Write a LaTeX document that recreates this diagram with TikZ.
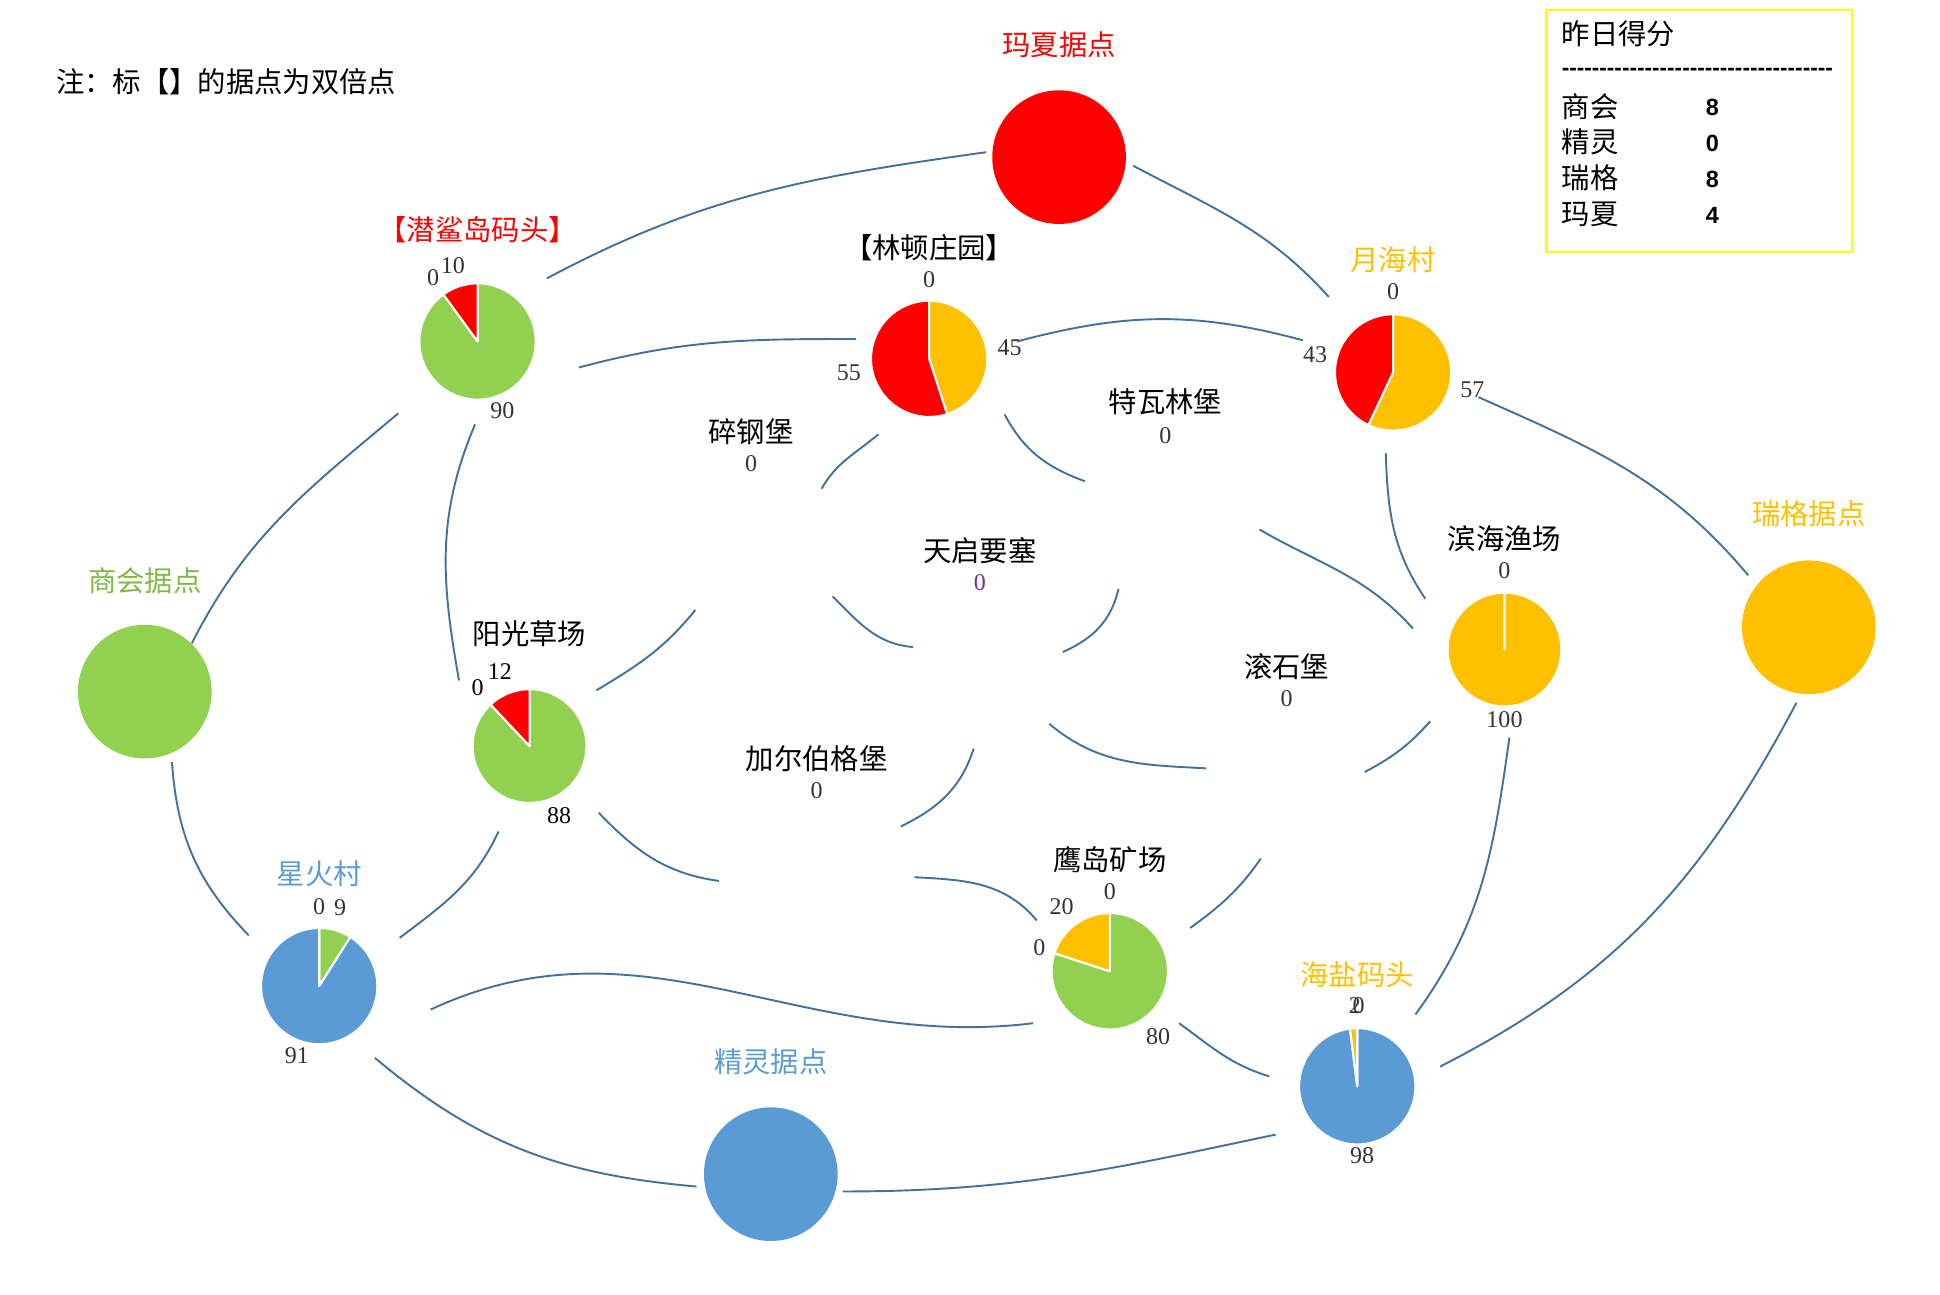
\documentclass[tikz,border=0pt]{standalone}
\usepackage{fontspec}
\setmainfont{Liberation Serif}
\newfontfamily\cjk{Noto Sans CJK SC}
\newfontfamily\legfont{Liberation Sans}
\usepackage{xcolor}
\definecolor{MxRed}{HTML}{FF0000}
\definecolor{ShGreen}{HTML}{92D050}
\definecolor{RgGold}{HTML}{FFC000}
\definecolor{JlBlue}{HTML}{5B9BD5}
\definecolor{ShText}{HTML}{7FBA45}
\definecolor{Link}{HTML}{41719C}
\definecolor{NumGray}{HTML}{333333}
\definecolor{Purple}{HTML}{7030A0}
\definecolor{BoxYellow}{HTML}{FFFF00}
\tikzset{
 lbl/.style={font=\cjk\fontsize{16.3}{19}\selectfont, inner sep=0pt},
 val/.style={font=\fontsize{13.8}{16}\selectfont, text=NumGray, inner sep=0pt},
 link/.style={draw=Link, line width=1.1pt},
 slice/.style={draw=white, line width=1.2pt, line join=round},
 bigdot/.style={circle, minimum size=2.7cm, inner sep=0pt},
 pie/.style={circle, minimum size=2.35cm, inner sep=0pt}
}

\begin{document}
\begin{tikzpicture}[x=0.025cm,y=0.025cm,yscale=-1]
\useasboundingbox (0,0) rectangle (1568,1046);

% note and score box
\node[lbl,anchor=west] (note) at (45,66) {注：标【】的据点为双倍点};
\node[draw=BoxYellow,line width=1.2pt,minimum width=6.175cm,minimum height=4.9cm,inner sep=0pt] (score) at (1373.5,106) {};
\node[lbl,anchor=west] (score-t) at (1262,27) {昨日得分};
\node[anchor=west,inner sep=0pt,font=\legfont\bfseries\fontsize{13}{15}\selectfont] (score-d) at (1262,58) {------------------------------------};
\node[lbl,anchor=west] (score-a) at (1262,86) {商会};
\node[lbl,anchor=west] (score-b) at (1262,115) {精灵};
\node[lbl,anchor=west] (score-c) at (1262,144) {瑞格};
\node[lbl,anchor=west] (score-e) at (1262,173) {玛夏};
\node[inner sep=0pt,font=\legfont\bfseries\fontsize{13.5}{15}\selectfont] (score-an) at (1384,87) {8};
\node[inner sep=0pt,font=\legfont\bfseries\fontsize{13.5}{15}\selectfont] (score-bn) at (1384,116) {0};
\node[inner sep=0pt,font=\legfont\bfseries\fontsize{13.5}{15}\selectfont] (score-cn) at (1384,145) {8};
\node[inner sep=0pt,font=\legfont\bfseries\fontsize{13.5}{15}\selectfont] (score-en) at (1384,174) {4};

% home bases
\node[bigdot,fill=MxRed] (mx) at (856,127) {};
\node[lbl,text=MxRed] (mx-t) at (856,36) {玛夏据点};
\node[bigdot,fill=ShGreen] (sh) at (117,559) {};
\node[lbl,text=ShText] (sh-t) at (117,469) {商会据点};
\node[bigdot,fill=RgGold] (rg) at (1462,507) {};
\node[lbl,text=RgGold] (rg-t) at (1462,415) {瑞格据点};
\node[bigdot,fill=JlBlue] (jl) at (623,949) {};
\node[lbl,text=JlBlue] (jl-t) at (623,858) {精灵据点};

% pies
\node[pie] (qs) at (386,276) {};
\filldraw[slice,fill=ShGreen] (qs.center) -- +(-90:47) arc[start angle=-90,end angle=234,radius=47] -- cycle;
\filldraw[slice,fill=MxRed] (qs.center) -- +(234:47) arc[start angle=234,end angle=270,radius=47] -- cycle;
\node[lbl,text=MxRed] (qs-t) at (386,186) {【潜鲨岛码头】};
\node[val] (qs-n1) at (350,224) {0};
\node[val] (qs-n2) at (366,215) {10};
\node[val] (qs-n3) at (406,332) {90};

\node[pie] (ld) at (751,290) {};
\filldraw[slice,fill=RgGold] (ld.center) -- +(-90:47) arc[start angle=-90,end angle=72,radius=47] -- cycle;
\filldraw[slice,fill=MxRed] (ld.center) -- +(72:47) arc[start angle=72,end angle=270,radius=47] -- cycle;
\node[lbl] (ld-t) at (751,200) {【林顿庄园】};
\node[val] (ld-n1) at (751,226) {0};
\node[val] (ld-n2) at (816,281) {45};
\node[val] (ld-n3) at (686,301) {55};

\node[pie] (yh) at (1126,301) {};
\filldraw[slice,fill=RgGold] (yh.center) -- +(-90:47) arc[start angle=-90,end angle=115.2,radius=47] -- cycle;
\filldraw[slice,fill=MxRed] (yh.center) -- +(115.2:47) arc[start angle=115.2,end angle=270,radius=47] -- cycle;
\node[lbl,text=RgGold] (yh-t) at (1126,210) {月海村};
\node[val] (yh-n1) at (1126,236) {0};
\node[val] (yh-n2) at (1063,287) {43};
\node[val] (yh-n3) at (1190,315) {57};

\node[pie,minimum size=2.3cm] (bh) at (1216,525) {};
\filldraw[slice,fill=RgGold] (bh.center) -- +(-90:46) arc[start angle=-90,end angle=270,radius=46] -- cycle;
\node[lbl] (bh-t) at (1216,435) {滨海渔场};
\node[val] (bh-n1) at (1216,461) {0};
\node[val] (bh-n2) at (1216,582) {100};

\node[pie,minimum size=2.3cm] (yg) at (428,603) {};
\filldraw[slice,fill=ShGreen] (yg.center) -- +(-90:46) arc[start angle=-90,end angle=226.8,radius=46] -- cycle;
\filldraw[slice,fill=MxRed] (yg.center) -- +(226.8:46) arc[start angle=226.8,end angle=270,radius=46] -- cycle;
\node[lbl] (yg-t) at (428,512) {阳光草场};
\node[val,text=black] (yg-n1) at (386,556) {0};
\node[val,text=black] (yg-n2) at (404,543) {12};
\node[val,text=black] (yg-n3) at (452,659) {88};

\node[pie] (xh) at (258,797) {};
\filldraw[slice,fill=ShGreen] (xh.center) -- +(-90:47) arc[start angle=-90,end angle=-57.6,radius=47] -- cycle;
\filldraw[slice,fill=JlBlue] (xh.center) -- +(-57.6:47) arc[start angle=-57.6,end angle=270,radius=47] -- cycle;
\node[lbl,text=JlBlue] (xh-t) at (258,706) {星火村};
\node[val] (xh-n1) at (258,733) {0};
\node[val] (xh-n2) at (275,734) {9};
\node[val] (xh-n3) at (240,853) {91};

\node[pie] (yd) at (897,785) {};
\filldraw[slice,fill=ShGreen] (yd.center) -- +(-90:47) arc[start angle=-90,end angle=198,radius=47] -- cycle;
\filldraw[slice,fill=RgGold] (yd.center) -- +(198:47) arc[start angle=198,end angle=270,radius=47] -- cycle;
\node[lbl] (yd-t) at (897,695) {鹰岛矿场};
\node[val] (yd-n1) at (897,721) {0};
\node[val] (yd-n2) at (858,733) {20};
\node[val] (yd-n3) at (840,766) {0};
\node[val] (yd-n4) at (936,838) {80};

\node[pie] (hy) at (1097,878) {};
\filldraw[slice,fill=JlBlue] (hy.center) -- +(-90:47) arc[start angle=-90,end angle=262.8,radius=47] -- cycle;
\filldraw[slice,fill=RgGold] (hy.center) -- +(262.8:47) arc[start angle=262.8,end angle=270,radius=47] -- cycle;
\node[lbl,text=RgGold] (hy-t) at (1097,788) {海盐码头};
\node[val] (hy-n1) at (1095,813) {2};
\node[val] (hy-n2) at (1098,813) {0};
\node[val] (hy-n3) at (1101,934) {98};

% castles
\node[lbl] (sg) at (607,349) {碎钢堡};
\node[val] (sg-n) at (607,375) {0};
\node[lbl] (tw) at (942,325) {特瓦林堡};
\node[val] (tw-n) at (942,352) {0};
\node[lbl] (tq) at (792,445) {天启要塞};
\node[val,text=Purple] (tq-n) at (792,471) {0};
\node[lbl] (gs) at (1040,539) {滚石堡};
\node[val] (gs-n) at (1040,565) {0};
\node[lbl] (je) at (660,613) {加尔伯格堡};
\node[val] (je-n) at (660,639) {0};

% connector ends
\coordinate (qs-mx) at (442,225); \coordinate (mx-qs) at (797,123);
\coordinate (mx-yh) at (916,134); \coordinate (yh-mx) at (1074,240);
\coordinate (qs-ld) at (468,297); \coordinate (ld-qs) at (692,274);
\coordinate (ld-yh) at (822,276); \coordinate (yh-ld) at (1053,275);
\coordinate (yh-rg) at (1195,321); \coordinate (rg-yh) at (1413,465);
\coordinate (qs-sh) at (322,334); \coordinate (sh-qs) at (155,520);
\coordinate (qs-yg) at (384,343); \coordinate (yg-qs) at (371,550);
\coordinate (sh-xh) at (139,616); \coordinate (xh-sh) at (201,756);
\coordinate (yg-xh) at (403,672); \coordinate (xh-yg) at (323,758);
\coordinate (yg-sg) at (482,558); \coordinate (sg-yg) at (562,493);
\coordinate (ld-sg) at (710,351); \coordinate (sg-ld) at (664,395);
\coordinate (ld-tw) at (812,335); \coordinate (tw-ld) at (877,389);
\coordinate (sg-tq) at (673,482); \coordinate (tq-sg) at (738,523);
\coordinate (tw-tq) at (904,476); \coordinate (tq-tw) at (859,527);
\coordinate (tw-bh) at (1018,428); \coordinate (bh-tw) at (1142,508);
\coordinate (yh-bh) at (1120,366); \coordinate (bh-yh) at (1152,484);
\coordinate (tq-gs) at (848,585); \coordinate (gs-tq) at (975,621);
\coordinate (bh-gs) at (1156,583); \coordinate (gs-bh) at (1103,624);
\coordinate (yg-je) at (484,657); \coordinate (je-yg) at (581,712);
\coordinate (tq-je) at (787,605); \coordinate (je-tq) at (728,668);
\coordinate (je-yd) at (739,709); \coordinate (yd-je) at (838,744);
\coordinate (gs-yd) at (1019,694); \coordinate (yd-gs) at (962,750);
\coordinate (xh-yd) at (348,816); \coordinate (yd-xh) at (835,827);
\coordinate (yd-hy) at (953,827); \coordinate (hy-yd) at (1026,870);
\coordinate (bh-hy) at (1220,596); \coordinate (hy-bh) at (1144,820);
\coordinate (rg-hy) at (1452,568); \coordinate (hy-rg) at (1164,862);
\coordinate (xh-jl) at (303,855); \coordinate (jl-xh) at (563,959);
\coordinate (jl-hy) at (681,963); \coordinate (hy-jl) at (1031,917);

% roads
\draw[link] (qs-mx) to[out=-28,in=172] (mx-qs);
\draw[link] (mx-yh) to[out=28,in=228] (yh-mx);
\draw[link] (qs-ld) to[out=-15,in=180] (ld-qs);
\draw[link] (ld-yh) to[out=-15,in=195] (yh-ld);
\draw[link] (yh-rg) to[out=24,in=230] (rg-yh);
\draw[link] (qs-sh) to[out=140,in=-63] (sh-qs);
\draw[link] (qs-yg) to[out=113,in=-100] (yg-qs);
\draw[link] (sh-xh) to[out=86,in=226] (xh-sh);
\draw[link] (yg-xh) to[out=115,in=-37] (xh-yg);
\draw[link] (yg-sg) to[out=-31,in=129] (sg-yg);
\draw[link] (ld-sg) to[out=140,in=-60] (sg-ld);
\draw[link] (ld-tw) to[out=62,in=200] (tw-ld);
\draw[link] (sg-tq) to[out=45,in=185] (tq-sg);
\draw[link] (tw-tq) to[out=103,in=-24] (tq-tw);
\draw[link] (tw-bh) to[out=30,in=228] (bh-tw);
\draw[link] (yh-bh) to[out=88,in=236] (bh-yh);
\draw[link] (tq-gs) to[out=40,in=183] (gs-tq);
\draw[link] (bh-gs) to[out=132,in=-28] (gs-bh);
\draw[link] (yg-je) to[out=46,in=188] (je-yg);
\draw[link] (tq-je) to[out=108,in=-26] (je-tq);
\draw[link] (je-yd) to[out=3,in=230] (yd-je);
\draw[link] (gs-yd) to[out=125,in=-36] (yd-gs);
\draw[link] (xh-yd) to[out=-25,in=173] (yd-xh);
\draw[link] (yd-hy) to[out=36,in=197] (hy-yd);
\draw[link] (bh-hy) to[out=98,in=-54] (hy-bh);
\draw[link] (rg-hy) to[out=118,in=-27] (hy-rg);
\draw[link] (xh-jl) to[out=40,in=185] (jl-xh);
\draw[link] (jl-hy) to[out=0,in=168] (hy-jl);
\end{tikzpicture}
\end{document}
